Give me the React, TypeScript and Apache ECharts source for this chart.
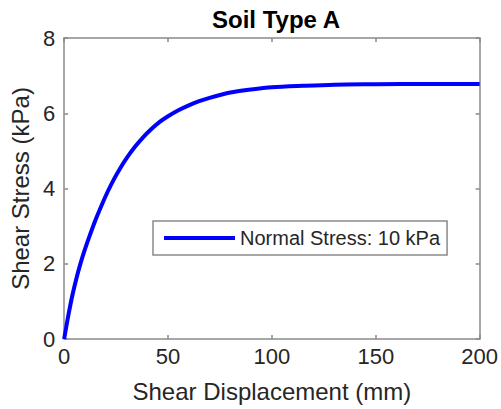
import React, { useEffect, useRef } from "react";
import * as echarts from "echarts";

const titleText = "Soil Type A";
const xAxisName = "Shear Displacement (mm)";
const yAxisName = "Shear Stress (kPa)";
const seriesName = "Normal Stress: 10 kPa";

const displacement = [0, 2, 4, 6, 8, 10, 12, 15, 18, 21, 24, 27, 30, 34, 38, 42, 46, 50, 55, 60, 65, 70, 80, 90, 100, 115, 130, 150, 175, 200];
const stress = [0, 0.62, 1.17, 1.63, 2.03, 2.38, 2.7, 3.15, 3.55, 3.92, 4.25, 4.54, 4.8, 5.1, 5.36, 5.58, 5.77, 5.92, 6.08, 6.21, 6.32, 6.41, 6.55, 6.63, 6.69, 6.73, 6.76, 6.77, 6.78, 6.78];

const xMin = 0, xMax = 200, xStep = 50;
const yMin = 0, yMax = 8, yStep = 2;

export default function App() {
  const ref = useRef<HTMLDivElement>(null);
  useEffect(() => {
    if (!ref.current) return;
    const chart = echarts.init(ref.current, null, { renderer: "svg" });
    const font = "Liberation Sans";
    const axisColor = "#8a8a8a";
    const textColor = "#262626";
    const common = {
      axisLine: { show: true, onZero: false, lineStyle: { color: axisColor, width: 1.5 } },
      axisTick: { show: true, inside: true, length: 4, lineStyle: { color: axisColor, width: 1.5 } },
      splitLine: { show: false },
    };
    chart.setOption({
      animation: false,
      backgroundColor: "#ffffff",
      title: {
        text: titleText,
        left: 207,
        top: 2,
        textStyle: { fontFamily: font, fontSize: 24, fontWeight: "bold", color: "#000000" },
      },
      grid: { left: 63, right: 21, top: 38, bottom: 70, containLabel: false },
      legend: {
        show: true,
        left: 153,
        top: 221,
        orient: "horizontal",
        backgroundColor: "#ffffff",
        borderColor: axisColor,
        borderWidth: 1.5,
        padding: [5, 7, 5, 11],
        itemWidth: 71,
        itemHeight: 4,
        itemGap: 5,
        icon: "rect",
        itemStyle: { color: "#0000ff", borderWidth: 0 },
        textStyle: { fontFamily: font, fontSize: 20, color: textColor, lineHeight: 24 },
        data: [seriesName],
      },
      xAxis: [
        {
          ...common,
          type: "value",
          min: xMin,
          max: xMax,
          interval: xStep,
          position: "bottom",
          name: xAxisName,
          nameLocation: "middle",
          nameGap: 40,
          nameTextStyle: { fontFamily: font, fontSize: 24, color: textColor },
          axisLabel: { fontFamily: font, fontSize: 22, color: textColor, margin: 6 },
        },
        {
          ...common,
          type: "value",
          min: xMin,
          max: xMax,
          interval: xStep,
          position: "top",
          axisLabel: { show: false },
        },
      ],
      yAxis: [
        {
          ...common,
          type: "value",
          min: yMin,
          max: yMax,
          interval: yStep,
          position: "left",
          name: yAxisName,
          nameLocation: "middle",
          nameGap: 26,
          nameTextStyle: { fontFamily: font, fontSize: 24, color: textColor },
          axisLabel: { fontFamily: font, fontSize: 22, color: textColor, margin: 9 },
        },
        {
          ...common,
          type: "value",
          min: yMin,
          max: yMax,
          interval: yStep,
          position: "right",
          axisLabel: { show: false },
        },
      ],
      series: [
        {
          name: seriesName,
          type: "line",
          xAxisIndex: 0,
          yAxisIndex: 0,
          data: displacement.map((x, i) => [x, stress[i]]),
          smooth: 0.3,
          symbol: "none",
          lineStyle: { color: "#0000ff", width: 4 },
          itemStyle: { color: "#0000ff" },
        },
      ],
    });
    return () => chart.dispose();
  }, []);
  return (
    <div
      ref={ref}
      style={{ position: "fixed", left: 0, top: 0, width: 501, height: 409 }}
    />
  );
}
